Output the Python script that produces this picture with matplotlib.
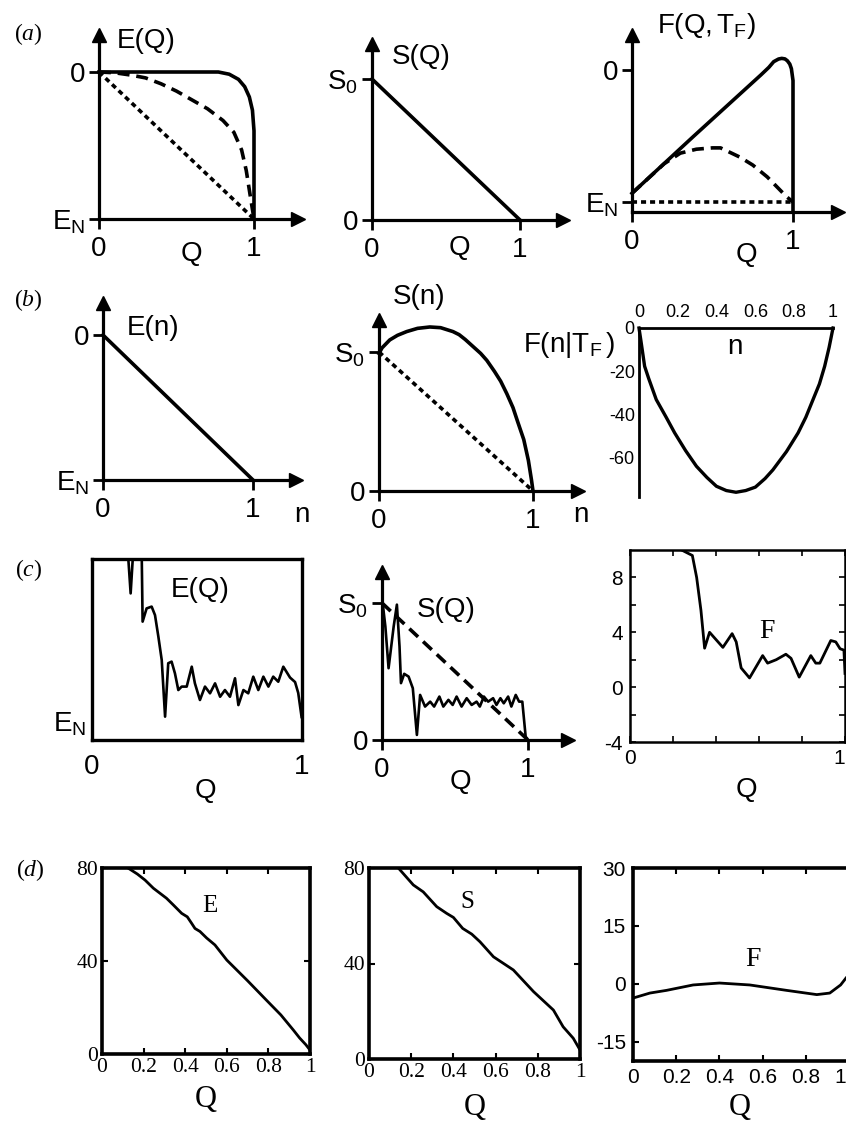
import matplotlib
matplotlib.use('Agg')
import matplotlib.pyplot as plt

plt.rcParams['font.family'] = ['Liberation Sans', 'DejaVu Sans']
plt.rcParams['mathtext.fontset'] = 'custom'
plt.rcParams['mathtext.rm'] = 'Liberation Serif'
plt.rcParams['mathtext.it'] = 'Liberation Serif:italic'
plt.rcParams['mathtext.sf'] = 'Liberation Sans'

# ---- data (energies normalised: E_N -> 0, 0 -> 1; entropies: 0 -> 0, S0 -> 1) ----
# (a) E(Q)
aE_q_solid = [0, 0.77, 0.84, 0.9, 0.94, 0.97, 0.99, 1.0, 1.0]
aE_v_solid = [1, 1, 0.985, 0.95, 0.9, 0.83, 0.74, 0.6, 0]
aE_q_dash = [0, 0.1, 0.2, 0.3, 0.4, 0.5, 0.6, 0.7, 0.8, 0.87, 0.92, 0.95, 0.98, 1.0]
aE_v_dash = [1, 0.995, 0.98, 0.96, 0.92, 0.87, 0.81, 0.75, 0.67, 0.59, 0.47, 0.33, 0.13, 0]
aE_q_dot = [0, 1]
aE_v_dot = [1, 0]
# (a) S(Q)
aS_q = [0, 1]
aS_v = [1, 0]
# (a) F(Q,T_F)
aF_q_solid = [0, 0.38, 0.8, 0.85, 0.88, 0.91, 0.93, 0.95, 0.965, 0.98, 0.99, 1.0, 1.0]
aF_v_solid = [0.066, 0.495, 0.962, 1.02, 1.063, 1.083, 1.088, 1.084, 1.07, 1.045, 1.01, 0.92, -0.07]
aF_q_dash = [0, 0.2, 0.3, 0.4, 0.5, 0.55, 0.67, 0.75, 0.84, 0.92, 0.96, 1.0]
aF_v_dash = [0.066, 0.29, 0.37, 0.40, 0.41, 0.41, 0.34, 0.28, 0.19, 0.09, 0.04, 0.0]
aF_q_dot = [0, 1]
aF_v_dot = [0, 0]
# (b) E(n), S(n), F(n|T_F)
bE_n = [0, 1]
bE_v = [1, 0]
bS_n = [0, 0.02, 0.07, 0.12, 0.18, 0.25, 0.33, 0.4, 0.48, 0.52, 0.56, 0.6, 0.66, 0.7,
        0.75, 0.79, 0.83, 0.87, 0.9, 0.94, 0.97, 0.99, 1.0]
bS_v = [0.99, 1.03, 1.087, 1.12, 1.147, 1.17, 1.18, 1.175, 1.147, 1.125, 1.09, 1.05, 0.99, 0.94,
        0.86, 0.79, 0.70, 0.60, 0.50, 0.37, 0.22, 0.08, 0.0]
bS_n_dot = [0, 1]
bS_v_dot = [1, 0]
bF_n = [0, 0.01, 0.029, 0.05, 0.089, 0.14, 0.184, 0.24, 0.296, 0.35, 0.399, 0.45, 0.5,
        0.55, 0.6, 0.65, 0.69, 0.76, 0.82, 0.86, 0.897, 0.93, 0.957, 0.98, 1.0]
bF_v = [0, -6, -17.8, -23.5, -33.3, -41.5, -48.8, -57, -64.3, -69.5, -73.6, -75.6, -76.4,
        -75.6, -74.0, -70, -66, -57.5, -48.8, -41.5, -33.3, -26, -17.8, -9, 0]
# (c) simulated E(Q), S(Q), F
cE_q = [0.173, 0.184, 0.194, 0.237, 0.241, 0.26, 0.284, 0.3, 0.316, 0.332, 0.348, 0.363,
        0.379, 0.395, 0.411, 0.427, 0.451, 0.475, 0.49, 0.514, 0.538, 0.562, 0.586, 0.61,
        0.633, 0.657, 0.681, 0.697, 0.721, 0.744, 0.768, 0.792, 0.816, 0.84, 0.863, 0.887,
        0.911, 0.943, 0.967, 0.982, 0.998]
cE_v = [1.0, 0.81, 1.0, 1.0, 0.654, 0.727, 0.737, 0.69, 0.571, 0.442, 0.129, 0.424,
        0.433, 0.368, 0.276, 0.295, 0.295, 0.405, 0.313, 0.221, 0.295, 0.258, 0.313, 0.239,
        0.276, 0.239, 0.341, 0.193, 0.276, 0.258, 0.35, 0.276, 0.35, 0.295, 0.35, 0.322,
        0.405, 0.345, 0.32, 0.26, 0.127]
cS_q = [0.007, 0.023, 0.045, 0.08, 0.102, 0.12, 0.13, 0.152, 0.182, 0.211, 0.239, 0.261,
        0.295, 0.33, 0.357, 0.393, 0.42, 0.455, 0.484, 0.511, 0.545, 0.58, 0.614, 0.648,
        0.67, 0.698, 0.727, 0.761, 0.784, 0.811, 0.834, 0.864, 0.886, 0.916, 0.939, 0.961,
        0.984, 1.0]
cS_v = [0.976, 0.829, 0.524, 0.829, 0.988, 0.683, 0.415, 0.483, 0.463, 0.378, 0.037, 0.329,
        0.244, 0.28, 0.244, 0.317, 0.244, 0.293, 0.256, 0.317, 0.244, 0.305, 0.256, 0.28,
        0.244, 0.317, 0.28, 0.305, 0.256, 0.305, 0.268, 0.317, 0.244, 0.329, 0.28, 0.28,
        0.024, 0.0]
cS_q_dash = [0, 1]
cS_v_dash = [1, 0]
cF_q = [0.24, 0.29, 0.31, 0.33, 0.347, 0.37, 0.432, 0.475, 0.494, 0.517, 0.556, 0.617,
        0.64, 0.68, 0.725, 0.749, 0.787, 0.841, 0.864, 0.883, 0.934, 0.957, 0.977, 0.995, 1.0]
cF_v = [10, 9.6, 8.0, 5.6, 2.84, 4.0, 2.9, 3.9, 3.3, 1.4, 0.67, 2.3,
        1.75, 2.0, 2.4, 2.1, 0.73, 2.3, 1.75, 1.75, 3.4, 3.3, 2.8, 2.7, 1.0]
# (d) E, S, F versus Q
dE_q = [0.125, 0.17, 0.207, 0.247, 0.31, 0.343, 0.383, 0.41, 0.431, 0.447, 0.471, 0.503,
        0.543, 0.6, 0.7, 0.79, 0.86, 0.92, 0.95, 0.98, 1.0]
dE_v = [80, 77.4, 74.8, 71.3, 67, 64.1, 60.5, 59.0, 56.2, 54, 52.7, 49.9,
        46.9, 40.4, 31.5, 23.2, 16.8, 10.3, 6.9, 4.0, 1.7]
dS_q = [0.139, 0.21, 0.257, 0.321, 0.368, 0.4, 0.444, 0.487, 0.526, 0.59, 0.684, 0.78,
        0.874, 0.92, 0.968, 1.0]
dS_v = [80, 72.9, 70, 63.8, 61, 59.3, 54.7, 52.3, 49.1, 42.8, 37.3, 28.2,
        20.5, 13.5, 8.7, 3.8]
dF_q = [0, 0.078, 0.155, 0.278, 0.4, 0.54, 0.71, 0.85, 0.91, 0.96, 0.985]
dF_v = [-3.7, -2.4, -1.7, -0.3, 0.2, -0.3, -1.7, -2.8, -2.4, -0.3, 1.5]

W, H = 846, 1122
fig = plt.figure(figsize=(W / 100, H / 100), dpi=100)

EN = r'$\mathsf{E_N}$'
S0 = r'$\mathsf{S_0}$'


def box(left, top, right, bottom):
    return fig.add_axes([left / W, 1 - bottom / H, (right - left) / W, (bottom - top) / H])


def label(x, y, s, size=20, **kw):
    fig.text(x / W, 1 - y / H, s, ha='center', va='center', fontsize=size, **kw)


def arrow_axes(x0, x1, xtip, ybase, y0, y1, ytip):
    # pixel positions: y axis at x0, x=1 at x1, arrow tips; x axis at ybase, y=0 at y0, y=1 at y1
    ax = box(x0, ytip + 7, xtip - 7, ybase)
    ax.set_xlim(0, (xtip - 7 - x0) / (x1 - x0))
    ax.set_ylim((y0 - ybase) / (y0 - y1), (y0 - ytip - 7) / (y0 - y1))
    ax.spines[['top', 'right']].set_visible(False)
    ax.spines[['left', 'bottom']].set_linewidth(2.3)
    ax.plot(1, 0, '>', color='k', ms=10.5, transform=ax.transAxes, clip_on=False)
    ax.plot(0, 1, '^', color='k', ms=10.5, transform=ax.transAxes, clip_on=False)
    ax.tick_params(direction='out', length=7, width=2.0, labelsize=20, pad=3)
    ax.tick_params(axis='x', pad=5)
    ax.set_xticks([0, 1], ['0', '1'])
    ax.patch.set_alpha(0)
    return ax


def curve(ax, x, y, style='-', lw=2.6):
    kw = dict(color='k', lw=lw, clip_on=False, solid_joinstyle='round')
    if style == '--':
        kw['dashes'] = (3.3, 1.9)
    elif style == ':':
        kw['dashes'] = (1.4, 1.1)
    ax.plot(x, y, **kw)


# ---------------- row (a) ----------------
ax = arrow_axes(99, 254, 305, 219, 219, 72, 28)
ax.set_yticks([0, 1], [EN, '0'])
curve(ax, aE_q_dot, aE_v_dot, ':')
curve(ax, aE_q_dash, aE_v_dash, '--')
curve(ax, aE_q_solid, aE_v_solid)
label(28, 34, r'$(a)$', 17)
label(146, 41, 'E(Q)')
label(191, 254, 'Q')

ax = arrow_axes(372, 520, 570, 220, 220, 79, 37)
ax.set_yticks([0, 1], ['0', S0])
curve(ax, aS_q, aS_v)
label(421, 57, 'S(Q)')
label(459, 248, 'Q')

ax = arrow_axes(632, 793, 845, 212, 202, 70, 28)
ax.set_yticks([0, 1], [EN, '0'])
curve(ax, aF_q_dot, aF_v_dot, ':')
curve(ax, aF_q_dash, aF_v_dash, '--')
curve(ax, aF_q_solid, aF_v_solid)
label(706, 26, r'$\mathsf{F(Q,T_F)}$')
label(746, 255, 'Q')

# ---------------- row (b) ----------------
ax = arrow_axes(103, 253, 303, 480, 480, 335, 296)
ax.set_yticks([0, 1], [EN, '0'])
curve(ax, bE_n, bE_v)
label(28, 300, r'$(b)$', 17)
label(153, 328, 'E(n)')
label(302, 515, 'n')

ax = arrow_axes(379, 533, 585, 491, 491, 352, 313)
ax.set_yticks([0, 1], ['0', S0])
curve(ax, bS_n_dot, bS_v_dot, ':')
curve(ax, bS_n, bS_v)
label(419, 297, 'S(n)')
label(581, 515, 'n')

ax = box(639, 328, 833, 497)
ax.set_xlim(0, 1)
ax.set_ylim(-78.6, 0)
ax.spines[['right', 'bottom']].set_visible(False)
ax.spines[['left', 'top']].set_linewidth(2.0)
ax.xaxis.tick_top()
ax.set_xticks([0, 0.2, 0.4, 0.6, 0.8, 1], ['0', '0.2', '0.4', '0.6', '0.8', '1'])
ax.set_yticks([0, -20, -40, -60], ['0', '-20', '-40', '-60'])
ax.tick_params(length=0, labelsize=13, pad=3)
ax.tick_params(axis='x', pad=5)
ax.patch.set_alpha(0)
curve(ax, bF_n, bF_v, lw=2.4)
label(569, 345, r'$\mathsf{F(n|T_F\,)}$')
label(735, 347, 'n')

# ---------------- row (c) ----------------
ax = box(92, 559, 302, 740)
ax.set_xlim(0, 1)
ax.set_ylim(0, 1)
ax.spines[:].set_linewidth(2.4)
ax.set_xticks([0, 1], ['0', '1'])
ax.set_yticks([0.105], [EN])
ax.tick_params(length=0, labelsize=20, pad=4)
ax.tick_params(axis='x', pad=10)
ax.plot(cE_q, cE_v, color='k', lw=1.9)
label(29, 570, r'$(c)$', 17)
label(200, 590, 'E(Q)')
label(205, 791, 'Q')

ax = arrow_axes(382, 528, 575, 740, 740, 603, 565)
ax.set_yticks([0, 1], ['0', S0])
curve(ax, cS_q_dash, cS_v_dash, '--')
curve(ax, cS_q, cS_v, lw=1.9)
label(446, 610, 'S(Q)')
label(460, 782, 'Q')

ax = box(630, 550, 845, 742)
ax.set_xlim(0, 1)
ax.set_ylim(-4, 10)
ax.spines[:].set_linewidth(1.8)
ax.set_xticks([0, 0.2, 0.4, 0.6, 0.8, 1], ['0', '', '', '', '', '1'])
ax.set_yticks([-4, 0, 4, 8], ['-4', '0', '4', '8'])
ax.set_yticks([-2, 2, 6], minor=True)
ax.tick_params(which='both', direction='in', length=4, width=1.2, top=True, right=True,
               labelsize=15, pad=5)
ax.get_xticklabels()[-1].set_ha('right')
ax.plot(cF_q, cF_v, color='k', lw=2.0)
label(767, 631, 'F', 20, family='Liberation Serif')
label(746, 790, 'Q')

# ---------------- row (d) ----------------
for left, top, right, bottom, qq, vv, name, lx, ly, qy in [
        (102, 868, 310, 1054, dE_q, dE_v, 'E', 210, 906, 1100),
        (369, 868, 580, 1059, dS_q, dS_v, 'S', 467, 902, 1107)]:
    ax = box(left, top, right, bottom)
    ax.set_xlim(0, 1)
    ax.set_ylim(0, 80)
    ax.spines[:].set_linewidth(2.6)
    ax.set_xticks([0, 0.2, 0.4, 0.6, 0.8, 1], ['0', '0.2', '0.4', '0.6', '0.8', '1'])
    ax.set_yticks([0, 40, 80], ['0', '40', '80'])
    ax.tick_params(direction='in', length=4, width=1.5, top=True, right=True,
                   labelsize=15.5, pad=3, labelfontfamily='Liberation Serif')
    ax.plot(qq, vv, color='k', lw=2.0)
    label(lx, ly, name, 18, family='Liberation Serif')
    label((left + right) / 2, qy, 'Q', 22, family='Liberation Serif')
label(30, 870, r'$(d)$', 17)

ax = box(633, 868, 846, 1061)
ax.set_xlim(0, 0.985)
ax.set_ylim(-20, 30)
ax.spines[:].set_linewidth(2.6)
ax.spines['right'].set_visible(False)
ax.set_xticks([0, 0.2, 0.4, 0.6, 0.8], ['0', '0.2', '0.4', '0.6', '0.8'])
ax.set_yticks([-15, 0, 15, 30], ['-15', '0', '15', '30'])
ax.tick_params(direction='in', length=4, width=1.5, top=True, right=False,
               labelsize=15, pad=5)
ax.plot(dF_q, dF_v, color='k', lw=2.0)
ax.text(1.0, -0.035, '1', transform=ax.transAxes, ha='right', va='top', fontsize=15)
label(753, 960, 'F', 20, family='Liberation Serif')
label(740, 1108, 'Q', 22, family='Liberation Serif')

fig.savefig('out.png', dpi=100, facecolor='white')
